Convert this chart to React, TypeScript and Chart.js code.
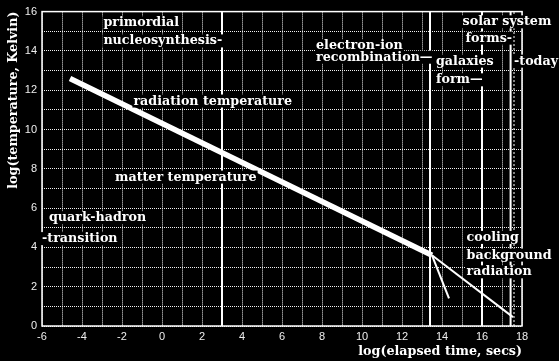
import React, { useEffect, useRef } from "react";
import { Chart, registerables } from "chart.js";

Chart.register(...registerables);

// ---- data ----
const xMin = -6;
const xMax = 18;
const yMin = 0;
const yMax = 16;
const xTickLabels = [-6, -4, -2, 0, 2, 4, 6, 8, 10, 12, 14, 16, 18];
const yTickLabels = [0, 2, 4, 6, 8, 10, 12, 14, 16];

const radiationX = [-4.6, 13.5];
const radiationY = [12.6, 3.6];
const coolingX = [13.5, 17.55];
const coolingY = [3.6, 0.45];
const matterX = [13.5, 14.35];
const matterY = [3.6, 1.4];

const eventX = [3, 13.4, 16, 17.43];
const todayX = [17.6];

const labelTexts = [
  "primordial",
  "nucleosynthesis-",
  "radiation temperature",
  "matter temperature",
  "quark-hadron",
  "-transition",
  "electron-ion",
  "recombination\u2014",
  "galaxies",
  "form\u2014",
  "solar system",
  "forms-",
  "-today",
  "cooling",
  "background",
  "radiation",
];
const labelX = [-2.93, -2.93, -1.43, -2.35, -5.65, -6.0, 7.7, 7.7, 13.7, 13.7, 15.03, 15.18, 17.6, 15.23, 15.23, 15.23];
const labelY = [15.25, 14.33, 11.27, 7.4, 5.33, 4.27, 14.08, 13.5, 13.3, 12.35, 15.3, 14.47, 13.3, 4.33, 3.43, 2.58];

const SERIF = '"DejaVu Serif", serif';

function pts(xs: number[], ys: number[]) {
  return xs.map((x, i) => ({ x, y: ys[i] }));
}

const overlayPlugin = {
  id: "overlay",
  beforeDraw(chart: any) {
    const { ctx, width, height } = chart;
    ctx.save();
    ctx.fillStyle = "#000";
    ctx.fillRect(0, 0, width, height);
    ctx.restore();
  },
  afterDatasetsDraw(chart: any) {
    const { ctx, chartArea, scales } = chart;
    const xs = scales.x;
    const ys = scales.y;
    ctx.save();
    // frame
    ctx.strokeStyle = "#fff";
    ctx.lineWidth = 1.5;
    ctx.strokeRect(chartArea.left, chartArea.top, chartArea.right - chartArea.left, chartArea.bottom - chartArea.top);
    // labels
    ctx.font = "bold 12.7px " + SERIF;
    ctx.textBaseline = "alphabetic";
    ctx.textAlign = "left";
    labelTexts.forEach((t, i) => {
      const px = xs.getPixelForValue(labelX[i]);
      const py = ys.getPixelForValue(labelY[i]);
      const m = ctx.measureText(t);
      ctx.fillStyle = "#000";
      ctx.fillRect(px - 1, py - 10, m.width + 2, 13);
      ctx.fillStyle = "#fff";
      ctx.fillText(t, px, py);
    });
    ctx.restore();
  },
};

export default function App() {
  const ref = useRef<HTMLCanvasElement | null>(null);

  useEffect(() => {
    document.body.style.margin = "0";
    document.body.style.background = "#000";
    const canvas = ref.current!;
    const lineDs = (data: any[], width: number, dash: number[] = []) => ({
      data,
      showLine: true,
      borderColor: "#fff",
      backgroundColor: "#fff",
      borderWidth: width,
      borderDash: dash,
      pointRadius: 0,
      pointHoverRadius: 0,
      tension: 0,
      borderCapStyle: "butt" as const,
    });
    const datasets: any[] = [];
    eventX.forEach((ex) => datasets.push(lineDs([{ x: ex, y: yMin }, { x: ex, y: yMax }], 2)));
    todayX.forEach((ex) => datasets.push(lineDs([{ x: ex, y: yMin }, { x: ex, y: yMax }], 1, [2, 2])));
    datasets.push(lineDs(pts(coolingX, coolingY), 2));
    datasets.push(lineDs(pts(matterX, matterY), 2));
    datasets.push(lineDs(pts(radiationX, radiationY), 5.5));

    const chart = new Chart(canvas, {
      type: "scatter",
      data: { datasets },
      plugins: [overlayPlugin],
      options: {
        animation: false,
        responsive: false,
        devicePixelRatio: 1,
        layout: { padding: { top: 6, right: 37, left: 0, bottom: 0 } },
        plugins: { legend: { display: false }, tooltip: { enabled: false } },
        events: [],
        scales: {
          x: {
            type: "linear",
            min: xMin,
            max: xMax,
            afterFit: (s: any) => {
              s.height = 35;
            },
            border: { display: false, dash: [1, 1] },
            grid: { color: "#f0f0f0", lineWidth: 1, drawTicks: false },
            ticks: {
              stepSize: 1,
              autoSkip: false,
              maxRotation: 0,
              padding: 4,
              color: "#eeeeee",
              font: { family: '"Liberation Sans", sans-serif', size: 11 },
              callback: (v: any) => (xTickLabels.includes(Number(v)) ? String(v) : ""),
            },
            title: {
              display: true,
              text: "log(elapsed time, secs)",
              align: "end",
              color: "#fff",
              font: { family: SERIF, size: 12.7, weight: "bold" },
              padding: { top: 0, bottom: 2 },
            },
          },
          y: {
            type: "linear",
            min: yMin,
            max: yMax,
            afterFit: (s: any) => {
              s.width = 42;
            },
            border: { display: false, dash: [1, 1] },
            grid: { color: "#f0f0f0", lineWidth: 1, drawTicks: false },
            ticks: {
              stepSize: 1,
              autoSkip: false,
              padding: 5,
              color: "#eeeeee",
              font: { family: '"Liberation Sans", sans-serif', size: 11 },
              callback: (v: any) => (yTickLabels.includes(Number(v)) ? String(v) : ""),
            },
            title: {
              display: true,
              text: "log(temperature, Kelvin)",
              align: "end",
              color: "#fff",
              font: { family: SERIF, size: 12.7, weight: "bold" },
              padding: { top: 6, bottom: 0 },
            },
          },
        },
      } as any,
    });
    return () => chart.destroy();
  }, []);

  return (
    <div style={{ width: 559, height: 361, background: "#000" }}>
      <canvas ref={ref} width={559} height={361} style={{ display: "block" }} />
    </div>
  );
}
